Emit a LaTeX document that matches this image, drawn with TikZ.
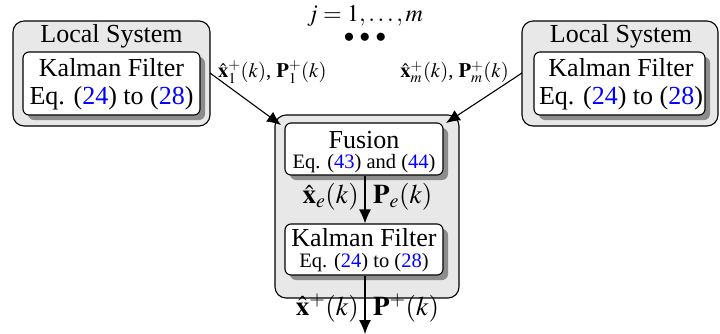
\documentclass[tikz,border=0pt]{standalone}
\usepackage{mathptmx}
\usepackage{fontspec}
\setmainfont{Liberation Serif}
\usetikzlibrary{arrows.meta,shadows}
\definecolor{boxgray}{HTML}{E8E8E8}
\definecolor{shadowgray}{HTML}{8C8C8C}
\newcommand{\eqref}[1]{\textcolor{blue}{#1}}
\begin{document}
\begin{tikzpicture}[x=1pt,y=-1pt,
  outerbox/.style={draw, line width=1.1pt, fill=boxgray, rounded corners=11pt, inner sep=0pt},
  innerbox/.style={draw, line width=1.1pt, fill=white, rounded corners=6pt, inner sep=0pt,
     drop shadow={shadow xshift=5pt, shadow yshift=-5pt, fill=shadowgray, opacity=1}},
  big/.style={font=\fontsize{26}{28}\selectfont, inner sep=0pt},
  small/.style={font=\fontsize{20.5}{23}\selectfont, inner sep=0pt},
  lbl/.style={font=\fontsize{20.5}{22}\selectfont, inner sep=0pt},
  mlbl/.style={font=\fontsize{27}{29}\selectfont, inner sep=0pt},
  arr/.style={line width=1.1pt, -{Latex[length=14pt,width=12pt]}}
]
\useasboundingbox (0,0) rectangle (720,333);

% left local system
\node[outerbox, minimum width=197pt, minimum height=105pt] (lo) at (111.5,73.5) {};
\node[innerbox, minimum width=177pt, minimum height=63pt] (li) at (111.5,83.5) {};
\node[big] (lt) at (111.5,36) {Local System};
\node[big] (lk) at (111.5,68) {Kalman Filter};
\node[big] (le) at (111.5,98) {Eq. (\eqref{24}) to (\eqref{28})};

% right local system
\node[outerbox, minimum width=196pt, minimum height=105pt] (ro) at (620,73.5) {};
\node[innerbox, minimum width=171pt, minimum height=63pt] (ri) at (619.5,83.5) {};
\node[big] (rt) at (621,36) {Local System};
\node[big] (rk) at (621,68) {Kalman Filter};
\node[big] (re) at (621,98) {Eq. (\eqref{24}) to (\eqref{28})};

% central fusion
\node[outerbox, minimum width=184pt, minimum height=183pt] (co) at (367,206.5) {};
\node[innerbox, minimum width=158pt, minimum height=52pt] (fu) at (364,149) {};
\node[big] (fut) at (364,140) {Fusion};
\node[small] (fue) at (364,163.5) {Eq. (\eqref{43}) and (\eqref{44})};
\node[innerbox, minimum width=158pt, minimum height=51pt] (kf) at (364,249.5) {};
\node[big] (kft) at (364,238) {Kalman Filter};
\node[small] (kfe) at (364,262.5) {Eq. (\eqref{24}) to (\eqref{28})};

% top index
\node[font=\fontsize{24}{26}\selectfont, inner sep=0pt] (jj) at (365,16) {$j=1,\ldots,m$};
\node[font=\fontsize{21}{23}\selectfont, inner sep=0pt] (dots) at (365,38) {${\bullet}\hspace{5.5pt}{\bullet}\hspace{5.5pt}{\bullet}$};

% connectors
\coordinate (la) at (210,73);
\coordinate (lb) at (281,125);
\coordinate (ra) at (522,73);
\coordinate (rb) at (446,123);
\draw[arr] (la) -- (lb);
\draw[arr] (ra) -- (rb);
\node[lbl, anchor=west] (l1) at (218,72) {$\hat{\mathbf{x}}^{+}_{1}(k)$, $\mathbf{P}^{+}_{1}(k)$};
\node[lbl, anchor=east] (lm) at (509,72) {$\hat{\mathbf{x}}^{+}_{m}(k)$, $\mathbf{P}^{+}_{m}(k)$};

\draw[arr] (fu.south -| 365,0) -- (kf.north -| 365,0);
\node[mlbl, anchor=east] (xe) at (359,197) {$\hat{\mathbf{x}}_{e}(k)$};
\node[mlbl, anchor=west] (pe) at (373,197) {$\mathbf{P}_{e}(k)$};

\coordinate (out) at (365,334);
\draw[arr] (kf.south -| 365,0) -- (out);
\node[mlbl, anchor=east] (xp) at (359,308) {$\hat{\mathbf{x}}^{+}(k)$};
\node[mlbl, anchor=west] (pp) at (373,308) {$\mathbf{P}^{+}(k)$};
\end{tikzpicture}
\end{document}
